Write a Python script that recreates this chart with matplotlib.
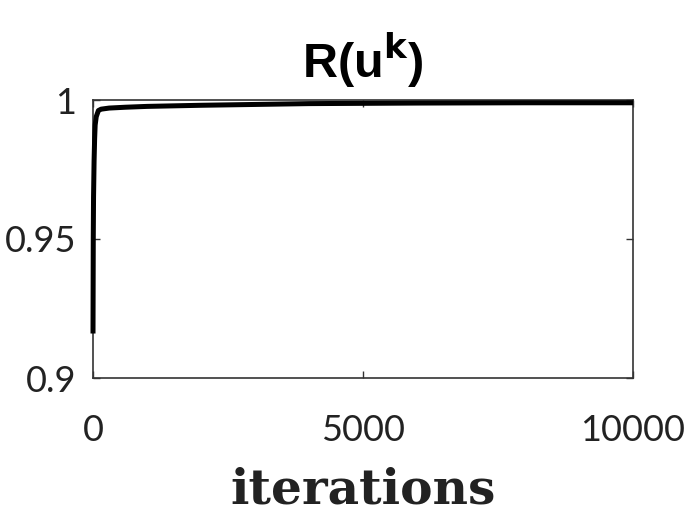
import matplotlib
matplotlib.use("Agg")
import matplotlib.pyplot as plt

# data
iterations = [0, 5, 10, 20, 30, 40, 60, 100, 150, 300, 600, 1000, 2000, 3000, 4000, 6000, 8000, 10000]
r_values = [0.916, 0.950, 0.965, 0.978, 0.986, 0.991, 0.994, 0.9962, 0.9967, 0.9971, 0.9974,
            0.9977, 0.9981, 0.9984, 0.9987, 0.9989, 0.9990, 0.9990]
x_ticks = [0, 5000, 10000]
x_tick_labels = ["0", "5000", "10000"]
y_ticks = [0.9, 0.95, 1.0]
y_tick_labels = ["0.9", "0.95", "1"]

fig = plt.figure(figsize=(7, 5.25), dpi=100)
ax = fig.add_axes([93/700, 1-378/525, 540/700, 278/525])
ax.plot(iterations, r_values, color="black", linewidth=3.6, solid_joinstyle="round",
        solid_capstyle="butt", clip_on=False, zorder=3)
ax.set_xlim(0, 10000)
ax.set_ylim(0.9, 1.0)
ax.set_xticks(x_ticks)
ax.set_xticklabels(x_tick_labels, fontfamily="Lato", fontsize=26)
ax.set_yticks(y_ticks)
ax.set_yticklabels(y_tick_labels, fontfamily="Lato", fontsize=26)
ax.tick_params(direction="in", length=5, width=1, colors="#333333", top=True, right=True,
               labelcolor="#222222")
ax.tick_params(axis="x", pad=26)
ax.tick_params(axis="y", pad=12)
for s in ax.spines.values():
    s.set_color("#333333")
    s.set_linewidth(1.2)

ax.set_title(r"R(u$^{\mathbf{k}}$)", fontfamily="Liberation Sans", fontweight="bold",
             fontsize=35, pad=16)
ax.set_xlabel("iterations", fontfamily="DejaVu Serif", fontweight="bold", fontsize=35,
              labelpad=14, color="#222222")

fig.savefig("out.png", dpi=100)
